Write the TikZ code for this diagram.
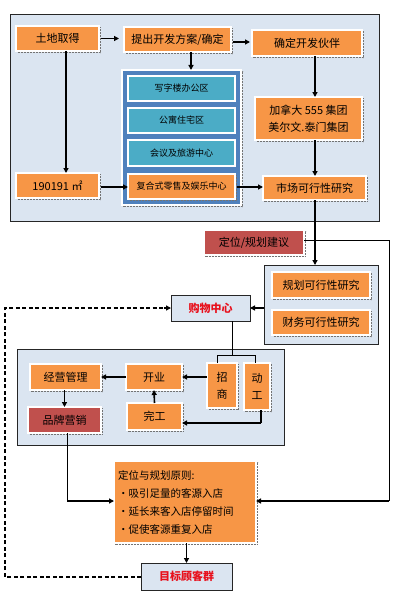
\documentclass[tikz,border=0pt]{standalone}
\usepackage{fontspec}
\setmainfont{Noto Sans CJK SC}
\usetikzlibrary{arrows.meta,calc}
\definecolor{orgC}{HTML}{F79646}
\definecolor{tealC}{HTML}{4BACC6}
\definecolor{redC}{HTML}{C0504D}
\definecolor{lbC}{HTML}{DBE5F1}
\definecolor{grpC}{HTML}{4F81BD}
\definecolor{txtred}{HTML}{E8101C}
\begin{document}
\begin{tikzpicture}[x=1pt,y=-1pt,
  box/.style={rectangle, inner sep=0pt, outer sep=0pt, align=center, font=\fontsize{11}{14}\selectfont},
  shd/.style={preaction={draw=black!55, densely dotted, line width=0.5pt, fill=none, transform canvas={shift={(1.6pt,-1.6pt)}}}},
  orgbox/.style={box, fill=orgC, draw=white, line width=1.2pt, shd},
  redbox/.style={box, fill=redC, draw=white, line width=1.2pt, shd},
  tealbox/.style={box, fill=tealC, draw=white, line width=1.6pt, font=\fontsize{9}{11}\selectfont},
  panel/.style={rectangle, inner sep=0pt, outer sep=0pt, draw=black!85, line width=0.7pt, fill=lbC},
  keybox/.style={panel, font=\bfseries\fontsize{11}{14}\selectfont, text=txtred},
  arr/.style={-{Triangle[length=5pt,width=5pt]}, line width=1.6pt},
  thin/.style={line width=0.8pt},
  thk/.style={line width=1.6pt},
  dsh/.style={line width=1.5pt, dash pattern=on 4pt off 2.5pt}
]
\useasboundingbox (0,0) rectangle (414,594);
\fill[white] (0,0) rectangle (414,594);

% panels
\node[panel, minimum width=369pt, minimum height=207pt] (p1) at (194.5,117.5) {};
\node[panel, minimum width=114pt, minimum height=79pt] (p2) at (321,304.5) {};
\node[panel, minimum width=267pt, minimum height=96pt] (p3) at (150.5,397) {};

% top area
\node[orgbox, minimum width=83pt, minimum height=25pt] (td) at (57.5,38.5) {土地取得};
\node[orgbox, minimum width=107pt, minimum height=25pt] (ti) at (177.5,39.5) {提出开发方案/确定};
\node[orgbox, minimum width=110pt, minimum height=26pt] (qd) at (307,43) {确定开发伙伴};
\node[box, fill=grpC, draw=white, line width=1.5pt, shd, minimum width=119pt, minimum height=135pt] (grp) at (181.5,137.5) {};
\node[tealbox, minimum width=107pt, minimum height=25pt] (xz) at (181.5,88.5) {写字楼办公区};
\node[tealbox, minimum width=107pt, minimum height=25pt] (gy) at (181.5,120.5) {公寓住宅区};
\node[tealbox, minimum width=107pt, minimum height=26pt] (hy) at (181.5,153) {会议及旅游中心};
\node[orgbox, font=\fontsize{9}{11}\selectfont, minimum width=107pt, minimum height=25pt] (fh) at (181.5,186.5) {复合式零售及娱乐中心};
\node[orgbox, minimum width=107pt, minimum height=43pt, font=\fontsize{11}{17}\selectfont] (jn) at (308.5,118.5) {加拿大 555 集团\\美尔文.泰门集团};
\node[orgbox, minimum width=83pt, minimum height=25pt] (mj) at (57.5,185.5) {190191 ㎡};
\node[orgbox, minimum width=103pt, minimum height=24pt] (sc) at (314.5,188) {市场可行性研究};

% middle
\node[redbox, minimum width=100pt, minimum height=25pt] (dw) at (254,242.5) {定位/规划建议};
\node[orgbox, minimum width=98pt, minimum height=26pt] (gh) at (321,285) {规划可行性研究};
\node[orgbox, minimum width=98pt, minimum height=25pt] (cw) at (321,322.5) {财务可行性研究};
\node[keybox, minimum width=79pt, minimum height=26pt] (gw) at (210.5,308) {购物中心};

% lower panel
\node[orgbox, minimum width=71pt, minimum height=26pt] (jy) at (65.5,377) {经营管理};
\node[orgbox, minimum width=56pt, minimum height=26pt] (ky) at (154,377) {开业};
\node[orgbox, minimum width=30pt, minimum height=45pt, font=\fontsize{11}{17}\selectfont] (zs) at (222,385.5) {招\\商};
\node[orgbox, minimum width=26pt, minimum height=47pt, font=\fontsize{11}{17}\selectfont] (dg) at (257,386.5) {动\\工};
\node[redbox, minimum width=73pt, minimum height=26pt] (pp) at (64.5,420) {品牌营销};
\node[orgbox, minimum width=55pt, minimum height=27pt] (wg) at (154.5,416.5) {完工};

% bottom
\node[orgbox, minimum width=142pt, minimum height=82pt, text width=134pt, align=left, inner sep=4pt, font=\fontsize{10.5}{18}\selectfont] (yz) at (185,502) {定位与规划原则:\\・吸引足量的客源入店\\・延长来客入店停留时间\\・促使客源重复入店};
\node[keybox, minimum width=91pt, minimum height=27pt] (mb) at (186.5,576.5) {目标顾客群};

% helper coordinates
\coordinate (x66) at (66,0);
\coordinate (x191) at (191,0);
\coordinate (x315) at (315,0);
\coordinate (y42) at (0,42);
\coordinate (y187) at (0,187);
\coordinate (rt) at (389,240);
\coordinate (rb) at (389,501);
\coordinate (bk) at (232,355);
\coordinate (bkl) at (217,355);
\coordinate (bkr) at (255,355);
\coordinate (dgb) at (261,423);
\coordinate (ppb) at (67,501);
\coordinate (dl1) at (5,577);
\coordinate (dl2) at (5,308);

% top connectors
\draw[arr, shorten <=2pt, shorten >=5pt] (td.east) -- (ti.west |- td.east);
\draw[arr, shorten <=2pt, shorten >=2pt] (ti.east |- y42) -- (qd.west |- y42);
\draw[arr] (ti.south -| x191) -- (grp.north -| x191);
\draw[arr] (qd.south -| x315) -- (jn.north -| x315);
\draw[arr] (jn.south -| x315) -- (sc.north -| x315);
\draw[arr] (td.south -| x66) -- (mj.north -| x66);
\draw[arr, shorten <=2pt] (mj.east |- y187) -- (fh.west |- y187);
\draw[arr, shorten <=2pt] (fh.east |- y187) -- (sc.west |- y187);
\draw[arr] (sc.south -| x315) -- (p2.north -| x315);

% right long line
\draw[thin] (dw.east |- rt) -- (rt) -- (rb);
\draw[arr] (rb) -- (yz.east |- rb);

% middle
\draw[arr] (p2.west |- gw.east) -- (gw.east);
\draw[thin] (gw.south -| bk) -- (bk);
\draw[thin] (bkl |- zs.north) -- (bkl) -- (bkr) -- (bkr |- dg.north);

% lower panel connectors
\draw[arr] (zs.west |- ky.east) -- (ky.east);
\draw[arr] (ky.west) -- (jy.east);
\draw[arr] (jy.south -| pp.north) -- (pp.north);
\draw[arr] (wg.north) -- (ky.south);
\draw[thk] (dg.south -| dgb) -- (dgb);
\draw[arr] (dgb) -- (wg.east |- dgb);
\draw[thin] (pp.south -| ppb) -- (ppb);
\draw[arr] (ppb) -- (yz.west |- ppb);

% bottom
\draw[arr] (yz.south -| mb.north) -- (mb.north);
\draw[dsh] (mb.west |- dl1) -- (dl1) -- (dl2) -- ($(gw.west)+(-6,0)$);
\draw[arr, line width=1.2pt] ($(gw.west)+(-7,0)$) -- (gw.west);
\end{tikzpicture}
\end{document}
